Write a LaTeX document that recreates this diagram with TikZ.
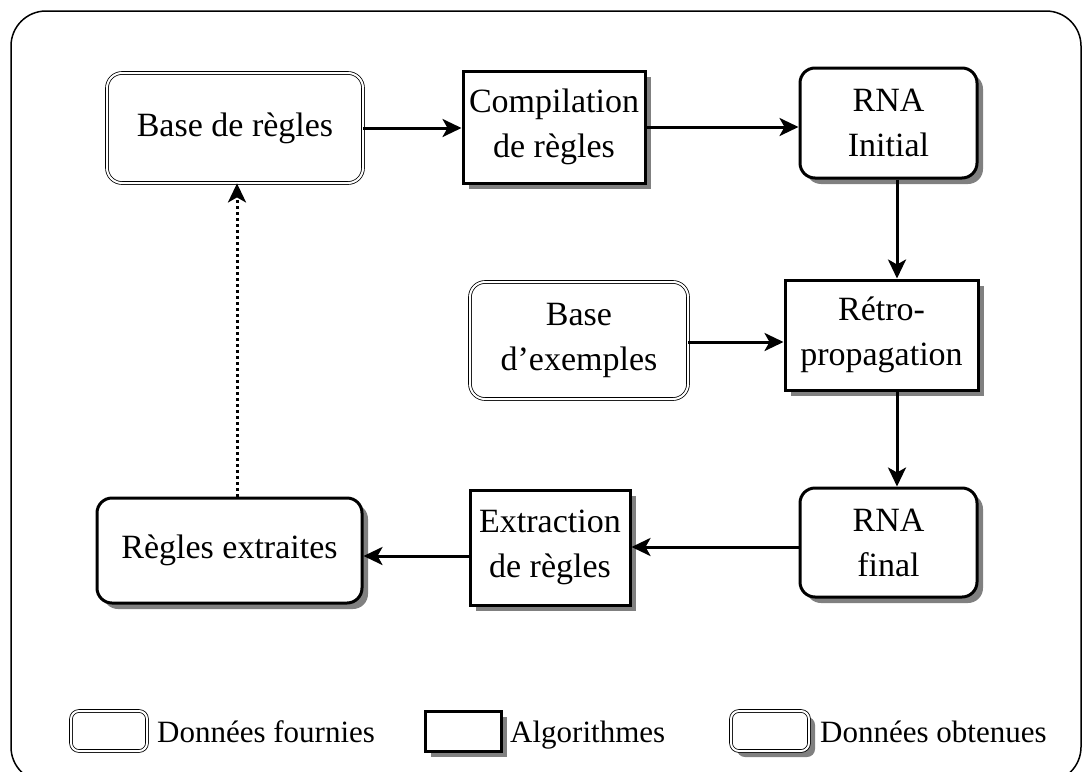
\documentclass[tikz,border=0pt]{standalone}
\usepackage{fontspec}
\setmainfont{Liberation Serif}
\usetikzlibrary{shadows,arrows.meta}

\tikzset{
  every node/.style={font=\fontsize{34}{45}\selectfont, align=center, inner sep=0pt},
  given/.style={draw, double, double distance=2pt, line width=0.8pt, rounded corners=15pt, fill=white},
  algo/.style={draw, line width=3pt, fill=white,
    drop shadow={shadow xshift=6pt, shadow yshift=-6pt, fill=black!50, opacity=1}},
  result/.style={draw, line width=3pt, rounded corners=15pt, fill=white,
    drop shadow={shadow xshift=6pt, shadow yshift=-6pt, fill=black!50, opacity=1}},
  flow/.style={line width=3pt, -{Stealth[length=19pt, width=18pt, inset=5pt]}},
  feedback/.style={flow, dash pattern=on 3pt off 3pt},
  legendtext/.style={font=\fontsize{31}{36}\selectfont, anchor=base west}
}

\begin{document}
\begin{tikzpicture}[x=1pt, y=-1pt]
  \useasboundingbox (0,0) rectangle (1089,771);
  \fill[white] (0,0) rectangle (1089,771);

  % outer frame
  \draw[line width=1.5pt, rounded corners=35pt] (11,11) rectangle (1081,782);

  % process boxes
  \node[given,  minimum width=256pt, minimum height=110pt] (base)  at (235,128)   {Base de règles};
  \node[algo,   minimum width=182pt, minimum height=112pt] (comp)  at (554,127)   {Compilation\\de règles};
  \node[result, minimum width=177pt, minimum height=110pt] (rnai)  at (888.5,123) {RNA\\Initial};
  \node[given,  minimum width=218pt, minimum height=117pt] (ex)    at (579,340.5) {Base\\d’exemples};
  \node[algo,   minimum width=193pt, minimum height=110pt] (retro) at (881.5,335) {Rétro-\\propagation};
  \node[result, minimum width=177pt, minimum height=109pt] (rnaf)  at (888.5,542.5) {RNA\\final};
  \node[algo,   minimum width=160pt, minimum height=115pt] (extr)  at (550,547.5) {Extraction\\de règles};
  \node[result, minimum width=265pt, minimum height=105pt] (regl)  at (229.5,550.5) {Règles extraites};

  % columns used by the vertical connectors
  \coordinate (rightcol) at (897,0);
  \coordinate (leftcol)  at (237,0);

  % connectors
  \draw[flow] (base.east) -- (base.east -| comp.west);
  \draw[flow] (comp.east) -- (comp.east -| rnai.west);
  \draw[flow] (rnai.south -| rightcol) -- (retro.north -| rightcol);
  \draw[flow] ([yshift=-1.5pt]ex.east) -- ([yshift=-1.5pt]ex.east -| retro.west);
  \draw[flow] (retro.south -| rightcol) -- (rnaf.north -| rightcol);
  \draw[flow] ([yshift=-4.5pt]rnaf.west) -- ([yshift=-4.5pt]rnaf.west -| extr.east);
  \draw[flow] ([yshift=-8.5pt]extr.west) -- ([yshift=-8.5pt]extr.west -| regl.east);
  \draw[feedback] (regl.north -| leftcol) -- (base.south -| leftcol);

  % legend
  \node[given, rounded corners=8pt, minimum width=76pt, minimum height=40pt] (lg1) at (109,731) {};
  \node[legendtext] (lt1) at (157,742) {Données fournies};
  \node[algo, minimum width=76pt, minimum height=40pt] (lg2) at (463,731) {};
  \node[legendtext] (lt2) at (510,742) {Algorithmes};
  \node[given, rounded corners=8pt, minimum width=78pt, minimum height=40pt,
        drop shadow={shadow xshift=6pt, shadow yshift=-6pt, fill=black!50, opacity=1}] (lg3) at (770,731) {};
  \node[legendtext] (lt3) at (820,742) {Données obtenues};
\end{tikzpicture}
\end{document}
